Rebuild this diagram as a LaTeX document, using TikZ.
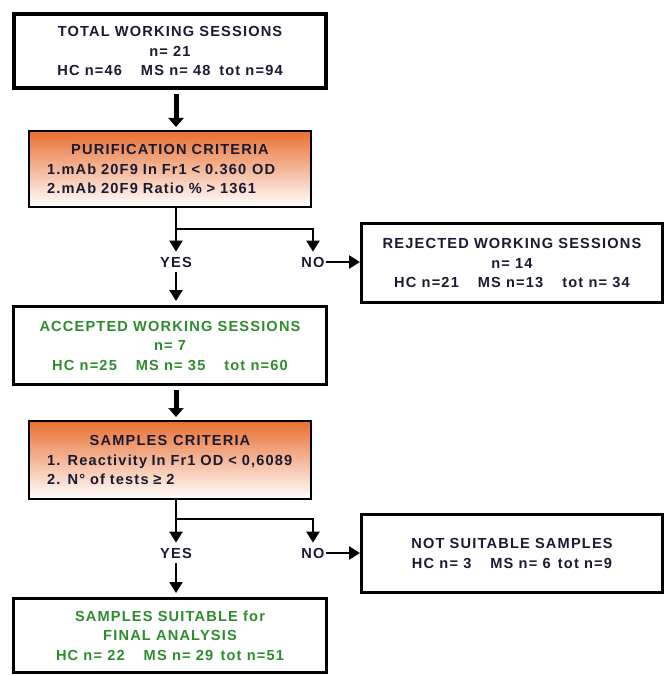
\documentclass[tikz,border=0pt]{standalone}
\usepackage{fontspec}
\newfontfamily\boxfont[LetterSpace=8]{Liberation Sans}
\usetikzlibrary{shapes,arrows.meta,positioning,calc}
\definecolor{critcol}{HTML}{E96F32}
\definecolor{okcol}{HTML}{2E8B2E}
\definecolor{txtcol}{HTML}{1A1A33}
\tikzstyle{flow} = [-{Triangle[length=11pt,width=13pt]}, line width=2.5pt]
\tikzstyle{bigflow} = [-{Triangle[length=9pt,width=15pt]}, line width=5pt, shorten <=4pt, shorten >=3pt]
\tikzset{
  basic box/.style = {
    shape = rectangle,
    draw,
    text centered,
    text = txtcol,
    inner sep = 4pt,
    font = \boxfont\bfseries\fontsize{14.6}{19.5}\selectfont,
    },
  count box/.style = {
    basic box,
    align = center,
    line width = #1,
    minimum width = 313pt,
    },
  side box/.style = {
    basic box,
    align = center,
    line width = 3pt,
    minimum width = 301pt,
    },
  crit box/.style = {
    basic box,
    line width = 2pt,
    minimum width = 282pt,
    minimum height = 76pt,
    text width = 246pt,
    align = left,
    top color = critcol,
    bottom color = white,
    },
  ok/.style = {text = okcol},
  lbl/.style = {
    text = txtcol,
    inner xsep = 1pt,
    inner ysep = 5pt,
    font = \boxfont\bfseries\fontsize{14.6}{19.5}\selectfont,
    },
}
\begin{document}
\begin{tikzpicture}
    \useasboundingbox (0,0) rectangle (667pt,-676pt);

    % boxes
    \node [count box=4pt, minimum width=312pt, minimum height=74pt] (total) at (170pt,-51pt)
        {TOTAL WORKING SESSIONS\\ n= 21\\ HC n=46\hspace{1.3em}MS n= 48\hspace{.6em}tot n=94};
    \node [crit box, below=40pt of total] (purif)
        {\makebox[\hsize]{PURIFICATION CRITERIA}\\ 1.mAb 20F9 In Fr1 < 0.360\hspace{.4em}OD\\ 2.mAb 20F9 Ratio \% > 1361};
    \node [side box, minimum height=79pt, below right=14pt and 48pt of purif] (rejected)
        {REJECTED WORKING SESSIONS\\ n= 14\\ HC n=21\hspace{1.3em}MS n=13\hspace{1.3em}tot n= 34};
    \node [count box=3pt, ok, minimum height=78pt, below=97pt of purif] (accepted)
        {ACCEPTED WORKING SESSIONS\\ n= 7\\ HC n=25\hspace{1.3em}MS n= 35\hspace{1.3em}tot n=60};
    \node [crit box, minimum height=78pt, below=34pt of accepted] (samples)
        {\makebox[\hsize]{SAMPLES\hspace{.4em}CRITERIA}\\ 1. Reactivity\hspace{.3em}In Fr1 OD < 0,6089\\ 2. N° of tests ≥ 2};
    \node [side box, minimum height=78pt, below right=13pt and 48pt of samples] (notsuit)
        {NOT SUITABLE SAMPLES\\ HC n= 3\hspace{1.3em}MS n= 6\hspace{.5em}tot n=9};
    \node [count box=3pt, ok, minimum height=74pt, below=97pt of samples] (final)
        {SAMPLES SUITABLE for\\ FINAL ANALYSIS\\ HC n= 22\hspace{1.3em}MS n= 29\hspace{.5em}tot n=51};

    % labels
    \node [lbl] (yes1) at ([xshift=6pt,yshift=-54pt]purif.south) {YES};
    \node [lbl] (no1) at ([xshift=143pt,yshift=-54pt]purif.south) {NO};
    \node [lbl] (yes2) at ([xshift=6pt,yshift=-53pt]samples.south) {YES};
    \node [lbl] (no2) at ([xshift=143pt,yshift=-53pt]samples.south) {NO};
    \coordinate (split1) at ([yshift=-21pt]yes1 |- purif.south);
    \coordinate (split2) at ([yshift=-19pt]yes2 |- samples.south);

    % paths
    \draw[bigflow] (yes1 |- total.south) -- (yes1 |- purif.north);
    \draw[flow] (yes1 |- purif.south) -- (yes1.north);
    \draw[flow] (split1) -| (no1.north);
    \draw[flow, shorten >=4pt] (yes1.south) -- (yes1 |- accepted.north);
    \draw[flow] (no1.east) -- (no1 -| rejected.west);

    \draw[bigflow] (yes2 |- accepted.south) -- (yes2 |- samples.north);
    \draw[flow] (yes2 |- samples.south) -- (yes2.north);
    \draw[flow] (split2) -| (no2.north);
    \draw[flow, shorten >=4pt] (yes2.south) -- (yes2 |- final.north);
    \draw[flow] (no2.east) -- (no2 -| notsuit.west);
\end{tikzpicture}
\end{document}
